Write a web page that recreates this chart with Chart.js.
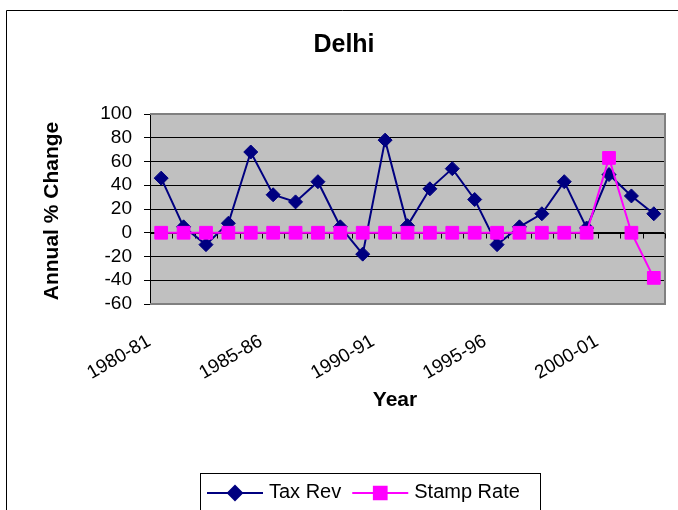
<!DOCTYPE html>
<html>
<head>
<meta charset="utf-8">
<title>Delhi</title>
<script src="https://cdn.jsdelivr.net/npm/chart.js@4.4.1/dist/chart.umd.min.js"></script>
<style>
  body { margin: 0; background: #fff; }
  canvas { display: block; }
</style>
</head>
<body>
<canvas id="chart" width="678" height="510"></canvas>
<script>
const years = ['1980-81', '1981-82', '1982-83', '1983-84', '1984-85', '1985-86', '1986-87', '1987-88',
  '1988-89', '1989-90', '1990-91', '1991-92', '1992-93', '1993-94', '1994-95', '1995-96', '1996-97',
  '1997-98', '1998-99', '1999-00', '2000-01', '2001-02', '2002-03'];
const taxRev = [46, 5, -10, 8, 68, 32, 26, 43, 5, -18, 78, 6, 37, 54, 28, -10, 5, 16, 43, 4, 49, 31, 16];
const stampRate = [0, 0, 0, 0, 0, 0, 0, 0, 0, 0, 0, 0, 0, 0, 0, 0, 0, 0, 0, 0, 63, 0, -38];
const yTicks = [-60, -40, -20, 0, 20, 40, 60, 80, 100];

const FONT = '"Liberation Sans", Arial, sans-serif';

// frame, plot background, axis titles and the boxed legend, drawn Excel-style
const decor = {
  id: 'decor',
  beforeDraw(chart) {
    const { ctx, chartArea: a } = chart;
    ctx.save();
    ctx.fillStyle = '#fff';
    ctx.fillRect(0, 0, chart.width, chart.height);
    ctx.fillStyle = '#c0c0c0';
    ctx.fillRect(a.left, a.top, a.right - a.left, a.bottom - a.top);
    ctx.strokeStyle = '#000';
    ctx.lineWidth = 1;
    ctx.beginPath();
    ctx.moveTo(6.5, chart.height);
    ctx.lineTo(6.5, 10.5);
    ctx.lineTo(chart.width, 10.5);
    ctx.stroke();
    ctx.restore();
  },
  beforeDatasetsDraw(chart) {
    const { ctx, chartArea: a } = chart;
    const x = chart.scales.x, y = chart.scales.y;
    ctx.save();
    // grey plot border (top, right, bottom)
    ctx.strokeStyle = '#808080';
    ctx.lineWidth = 2;
    ctx.beginPath();
    ctx.moveTo(a.left, a.top);
    ctx.lineTo(a.right, a.top);
    ctx.lineTo(a.right, a.bottom);
    ctx.lineTo(a.left, a.bottom);
    ctx.stroke();
    // category axis crossing at zero, with tick marks between categories
    const y0 = Math.round(y.getPixelForValue(0)) + 0.5;
    ctx.strokeStyle = '#000';
    ctx.lineWidth = 1;
    ctx.beginPath();
    ctx.moveTo(a.left, y0);
    ctx.lineTo(a.right, y0);
    for (let i = 0; i <= years.length; i++) {
      const px = Math.round(x.getPixelForValue(i - 0.5)) + 0.5;
      ctx.moveTo(px, y0);
      ctx.lineTo(px, y0 + 5);
    }
    ctx.stroke();
    ctx.restore();
  },
  afterDraw(chart) {
    const { ctx } = chart;
    ctx.save();
    ctx.fillStyle = '#000';
    ctx.textAlign = 'center';
    ctx.textBaseline = 'alphabetic';
    ctx.font = 'bold 25px ' + FONT;
    ctx.fillText('Delhi', 344, 52);
    ctx.font = 'bold 21px ' + FONT;
    ctx.fillText('Year', 395, 406);
    ctx.save();
    ctx.translate(58, 211);
    ctx.rotate(-Math.PI / 2);
    ctx.fillText('Annual % Change', 0, 0);
    ctx.restore();

    // legend
    ctx.strokeStyle = '#000';
    ctx.lineWidth = 1;
    ctx.strokeRect(200.5, 473.5, 340, 50);
    ctx.font = '20px ' + FONT;
    ctx.textAlign = 'left';
    let lx = 207;
    const ly = 493;
    chart.data.datasets.forEach(ds => {
      ctx.strokeStyle = ds.borderColor;
      ctx.lineWidth = 2;
      ctx.beginPath();
      ctx.moveTo(lx, ly);
      ctx.lineTo(lx + 56, ly);
      ctx.stroke();
      ctx.fillStyle = ds.backgroundColor;
      ctx.strokeStyle = ds.borderColor;
      Chart.helpers.drawPoint(ctx, {
        pointStyle: ds.pointStyle, radius: ds.pointRadius, rotation: 0, borderWidth: 1
      }, lx + 28, ly);
      ctx.fillStyle = '#000';
      ctx.fillText(ds.label, lx + 62, 498);
      lx += 62 + ctx.measureText(ds.label).width + 11;
    });
    ctx.restore();
  }
};

new Chart(document.getElementById('chart'), {
  type: 'line',
  data: {
    labels: years,
    datasets: [{
      label: 'Tax Rev',
      data: taxRev,
      borderColor: '#000080',
      backgroundColor: '#000080',
      borderWidth: 2,
      pointStyle: 'rectRot',
      pointRadius: 7,
      pointBorderWidth: 1,
      tension: 0,
      order: 1
    }, {
      label: 'Stamp Rate',
      data: stampRate,
      borderColor: '#ff00ff',
      backgroundColor: '#ff00ff',
      borderWidth: 2,
      pointStyle: 'rect',
      pointRadius: 9,
      pointBorderWidth: 1,
      tension: 0,
      order: 0
    }]
  },
  options: {
    responsive: false,
    animation: false,
    devicePixelRatio: 1,
    layout: { padding: { top: 114, right: 13, left: 0, bottom: 0 } },
    plugins: {
      legend: { display: false },
      title: { display: false },
      tooltip: { enabled: false }
    },
    scales: {
      x: {
        offset: true,
        grid: { display: false, drawTicks: false },
        border: { display: false },
        ticks: {
          autoSkip: false,
          minRotation: 30,
          maxRotation: 30,
          padding: 26,
          labelOffset: -12,
          color: '#000',
          font: { family: FONT, size: 19 },
          callback: (v, i) => (i % 5 === 0 ? years[i] : '')
        },
        afterFit(scale) {
          scale.height = 206;
          scale.paddingLeft = 0;
          scale.paddingRight = 0;
        }
      },
      y: {
        min: -60,
        max: 100,
        afterBuildTicks(scale) { scale.ticks = yTicks.map(v => ({ value: v })); },
        grid: { color: '#000', lineWidth: 1, tickLength: 6, tickColor: '#000' },
        border: { display: true, color: '#000', width: 1 },
        ticks: {
          autoSkip: false,
          padding: 12,
          color: '#000',
          font: { family: FONT, size: 19 }
        },
        afterFit(scale) { scale.width = 150; }
      }
    }
  },
  plugins: [decor]
});
</script>
</body>
</html>
